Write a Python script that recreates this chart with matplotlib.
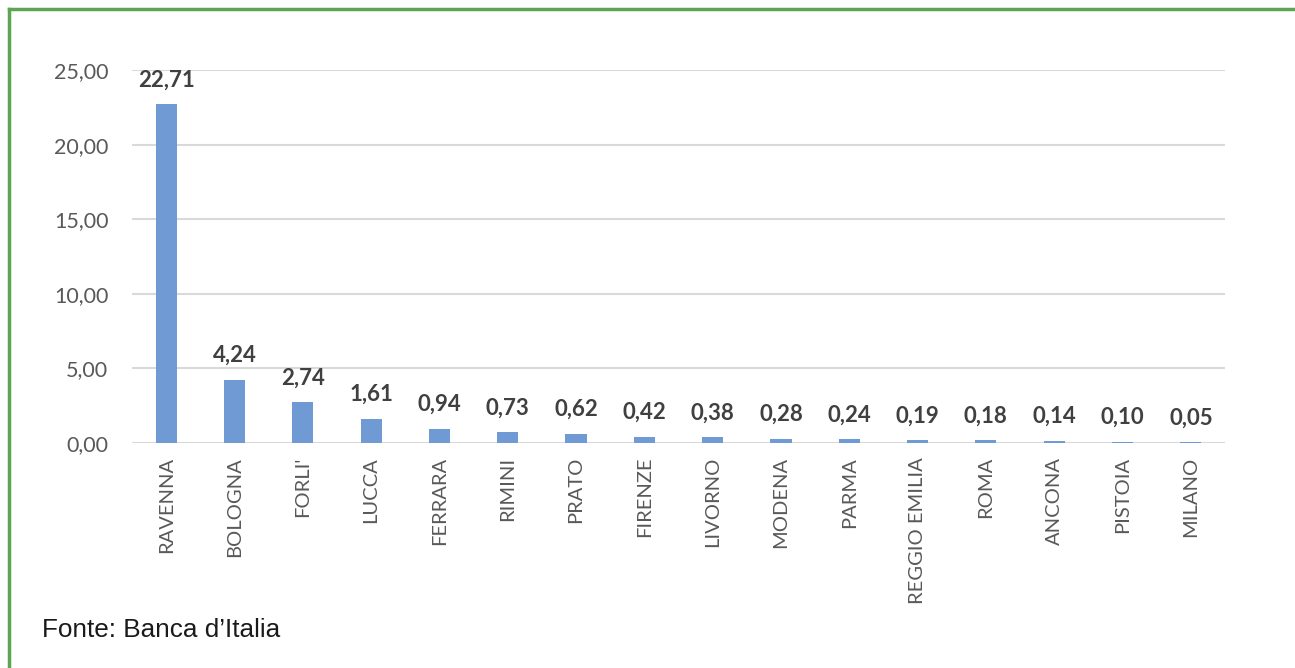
import matplotlib.pyplot as plt
from matplotlib.lines import Line2D

# provinces and values (percent)
province = ["RAVENNA", "BOLOGNA", "FORLI'", "LUCCA", "FERRARA", "RIMINI", "PRATO",
            "FIRENZE", "LIVORNO", "MODENA", "PARMA", "REGGIO EMILIA", "ROMA",
            "ANCONA", "PISTOIA", "MILANO"]
valori = [22.71, 4.24, 2.74, 1.61, 0.94, 0.73, 0.62, 0.42, 0.38, 0.28, 0.24,
          0.19, 0.18, 0.14, 0.10, 0.05]
yticks = [0, 5, 10, 15, 20, 25]

FONT = "Lato"


def virgola(v):
    return f"{v:.2f}".replace(".", ",")


fig = plt.figure(figsize=(12.95, 6.68), dpi=100)
ax = fig.add_axes([132 / 1295, 1 - 443 / 668, 1093 / 1295, 373 / 668])

x = range(len(province))
ax.bar(x, valori, width=0.31, color="#709AD4", zorder=3)

for i, v in zip(x, valori):
    ax.annotate(virgola(v), (i, v), xytext=(0, 10), textcoords="offset points",
                ha="center", va="bottom", fontsize=16, fontweight="bold",
                family=FONT, color="#404040")

ax.set_xlim(-0.5, len(province) - 0.5)
ax.set_ylim(0, 25)
ax.set_yticks(yticks)
ax.set_yticklabels([virgola(t) for t in yticks], family=FONT,
                   fontsize=15.5, color="#595959")
ax.set_xticks(list(x))
ax.set_xticklabels(province, rotation=90, family=FONT, fontsize=14.5,
                   color="#595959")
ax.tick_params(length=0)
ax.tick_params(axis="y", pad=17)
ax.tick_params(axis="x", pad=10)
ax.grid(axis="y", color="#D9D9D9", linewidth=1.5, zorder=0)
for s in ax.spines.values():
    s.set_visible(False)

fig.text(42 / 1295, 1 - 630 / 668, "Fonte: Banca d\u2019Italia", family="Liberation Sans",
         fontsize=18.8, color="#1a1a1a", va="center", ha="left")

# green frame: top and left edges
fig.add_artist(Line2D([9 / 1295, 1], [1 - 9 / 668, 1 - 9 / 668], color="#5FA354",
                      linewidth=2.5, transform=fig.transFigure))
fig.add_artist(Line2D([9 / 1295, 9 / 1295], [0, 1 - 9 / 668], color="#5FA354",
                      linewidth=2.5, transform=fig.transFigure))

fig.savefig("out.png", dpi=100)
